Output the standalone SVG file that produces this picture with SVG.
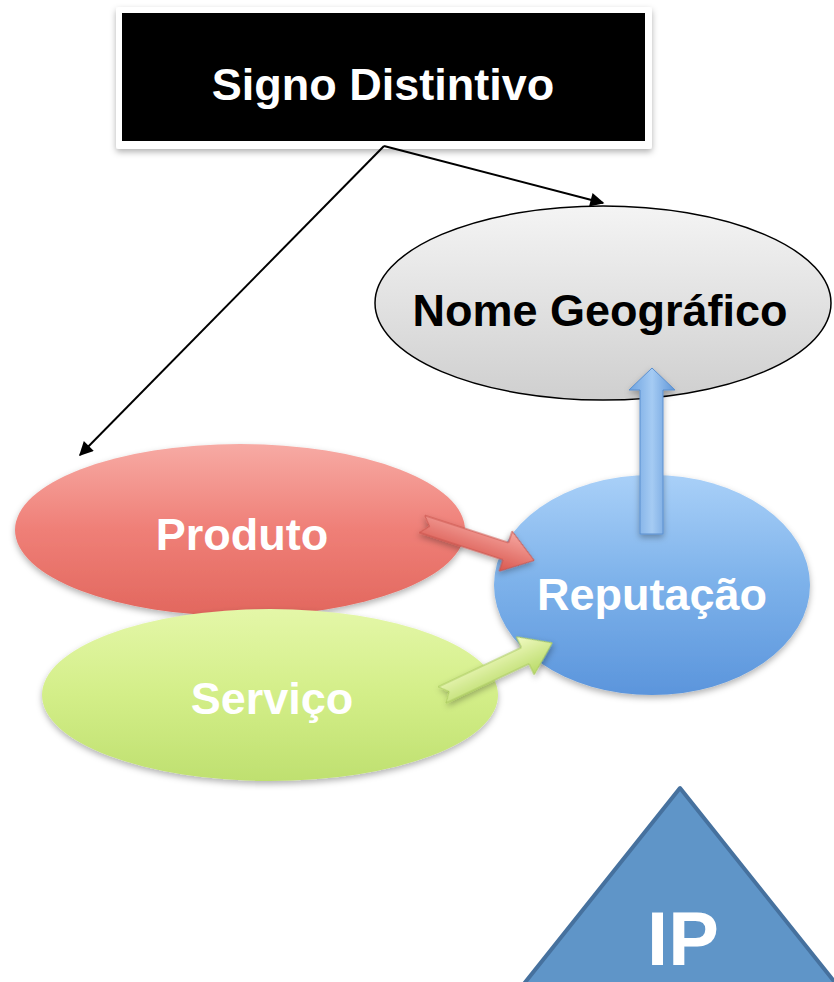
<svg xmlns="http://www.w3.org/2000/svg" width="834" height="982" viewBox="0 0 834 982">
<defs>
<style>
.lbl{font-family:"Liberation Sans",Arial,sans-serif;font-weight:bold;font-size:45px;text-anchor:middle}
.w{fill:#ffffff}
.k{fill:#000000}
.conn{stroke:#000;stroke-width:2;fill:none}
</style>
<linearGradient id="gGray" x1="0" y1="0" x2="0" y2="1"><stop offset="0" stop-color="#f4f4f4"/><stop offset="1" stop-color="#cfcfcf"/></linearGradient>
<linearGradient id="gRed" x1="0" y1="0" x2="0" y2="1"><stop offset="0" stop-color="#f7aaa4"/><stop offset="0.5" stop-color="#ef7f77"/><stop offset="1" stop-color="#e2675e"/></linearGradient>
<linearGradient id="gGreen" x1="0" y1="0" x2="0" y2="1"><stop offset="0" stop-color="#e4f7a8"/><stop offset="0.5" stop-color="#d3ee88"/><stop offset="1" stop-color="#bfe070"/></linearGradient>
<linearGradient id="gBlue" x1="0" y1="0" x2="0" y2="1"><stop offset="0" stop-color="#a9d0f8"/><stop offset="0.5" stop-color="#7cb1ea"/><stop offset="1" stop-color="#5b95dc"/></linearGradient>
<linearGradient id="gRedA" x1="0" y1="0" x2="0" y2="1"><stop offset="0" stop-color="#f6a7a1"/><stop offset="1" stop-color="#d9574e"/></linearGradient>
<linearGradient id="gGreenA" x1="0" y1="0" x2="0" y2="1"><stop offset="0" stop-color="#f2fbc4"/><stop offset="1" stop-color="#b8da66"/></linearGradient>
<linearGradient id="gBlueA" x1="0" y1="0" x2="1" y2="0"><stop offset="0" stop-color="#6ea3e0"/><stop offset="0.5" stop-color="#a5cbf3"/><stop offset="1" stop-color="#5f96d8"/></linearGradient>
<filter id="sh" x="-10%" y="-10%" width="120%" height="130%"><feDropShadow dx="0" dy="3" stdDeviation="3" flood-color="#000" flood-opacity="0.3"/></filter>
<marker id="ah2" viewBox="0 0 10 10" refX="9" refY="5" markerWidth="16" markerHeight="14" markerUnits="userSpaceOnUse" orient="auto"><path d="M0,0 L10,5 L0,10 z" fill="#000"/></marker>
</defs>

<g id="signo">
<rect x="116" y="7" width="536" height="142" rx="3" fill="#ffffff" filter="url(#sh)"/>
<rect x="122" y="13" width="523" height="128" fill="#000000"/>
<text class="lbl w" x="383" y="100">Signo Distintivo</text>
</g>

<g id="nome">
<ellipse cx="603" cy="303" rx="228" ry="97" fill="url(#gGray)" stroke="#000" stroke-width="1.5"/>
<text class="lbl k" x="600" y="326">Nome Geográfico</text>
</g>

<g id="produto">
<ellipse cx="240" cy="530" rx="225" ry="86" fill="url(#gRed)" filter="url(#sh)"/>
<text class="lbl w" x="242" y="550">Produto</text>
</g>

<g id="servico">
<ellipse cx="270" cy="695" rx="228" ry="86" fill="url(#gGreen)" filter="url(#sh)"/>
<text class="lbl w" x="272" y="714">Serviço</text>
</g>

<g id="reputacao">
<ellipse cx="652" cy="585" rx="158" ry="110" fill="url(#gBlue)" filter="url(#sh)"/>
<text class="lbl w" x="652" y="610">Reputação</text>
</g>

<g id="ip">
<polygon points="680,788 519,990 841,990" fill="#5f95c8" stroke="#46719e" stroke-width="4" stroke-linejoin="round"/>
<text class="w" x="683" y="965" font-family="'Liberation Sans',Arial,sans-serif" font-weight="bold" font-size="76" text-anchor="middle">IP</text>
</g>

<g id="connectors">
<polyline class="conn" points="384,146 80,455" marker-end="url(#ah2)"/>
<polyline class="conn" points="384,146 603,203" marker-end="url(#ah2)"/>
<polygon transform="translate(422,524) rotate(18)" points="0,-9 88,-9 88,-21 118,0 88,21 88,9 0,9 8,0" fill="url(#gRedA)" stroke="#c9544c" stroke-width="1" filter="url(#sh)"/>
<polygon transform="translate(442,695) rotate(-25.3)" points="0,-9 92,-9 92,-21 122,0 92,21 92,9 0,9 8,0" fill="url(#gGreenA)" stroke="#a8c95c" stroke-width="1" filter="url(#sh)"/>
<polygon points="640,534 640,390 629,390 652,368 675,390 663,390 663,534" fill="url(#gBlueA)" stroke="#5a8fcf" stroke-width="1" filter="url(#sh)"/>
</g>
</svg>
